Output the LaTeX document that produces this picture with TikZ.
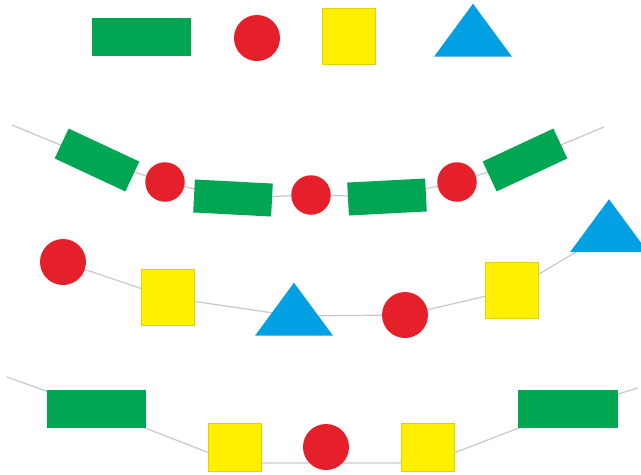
\documentclass[tikz,border=0pt]{standalone}
\usepackage{xcolor}
\usepackage{tikz}
\usetikzlibrary{shapes.geometric, backgrounds}
\definecolor{leafgreen}{HTML}{00A651}
\definecolor{beadred}{HTML}{E6202A}
\definecolor{beadyellow}{HTML}{FFF000}
\definecolor{beadblue}{HTML}{00A0E3}
\definecolor{stringgray}{HTML}{C8C8D0}
\tikzset{
  bar/.style={
    rectangle, fill=leafgreen,
    minimum width=19.8mm, minimum height=7.6mm,
    inner sep=0pt
  },
  small bar/.style={
    bar, minimum width=15.6mm, minimum height=6.6mm
  },
  bead/.style={
    circle, fill=beadred,
    minimum size=9.2mm, inner sep=0pt
  },
  small bead/.style={
    bead, minimum size=7.9mm
  },
  cube/.style={
    rectangle, fill=beadyellow, draw=beadyellow!88!black, line width=0.3pt,
    minimum width=10.6mm, minimum height=11.2mm,
    inner sep=0pt
  },
  cone/.style={
    isosceles triangle, isosceles triangle stretches,
    shape border rotate=90, fill=beadblue,
    minimum width=15.6mm, minimum height=10.6mm,
    inner sep=0pt
  },
  string/.style={stringgray, line width=0.7pt}
}
\begin{document}
\begin{tikzpicture}[x=0.2mm, y=-0.2mm]
  \useasboundingbox (0,0) rectangle (641,475);

  % Top row: the four kinds of beads
  \node[bar]  (a1) at (141.5,37) {};
  \node[bead] (a2) at (257,38) {};
  \node[cube] (a3) at (349,36) {};
  \node[cone] (a4) at (473,37) {};

  % Second row
  \coordinate (b0) at (12,125);
  \node[small bar, rotate=-25] (b1) at (97,160) {};
  \node[small bead]            (b2) at (165,182) {};
  \node[small bar, rotate=-3]  (b3) at (233,198) {};
  \node[small bead]            (b4) at (311,195) {};
  \node[small bar, rotate=3]   (b5) at (387,197) {};
  \node[small bead]            (b6) at (457,182) {};
  \node[small bar, rotate=25]  (b7) at (525,160) {};
  \coordinate (b8) at (604,127);

  % Third row
  \node[bead] (c1) at (63,262) {};
  \node[cube] (c2) at (167.5,297.5) {};
  \node[cone] (c3) at (294,316) {};
  \node[bead] (c4) at (405,315) {};
  \node[cube] (c5) at (512,290) {};
  \node[cone] (c6) at (609,232.5) {};

  % Bottom row
  \coordinate (d0) at (7,377);
  \node[bar]  (d1) at (96.5,409) {};
  \node[cube, minimum height=9.6mm] (d2) at (235,447) {};
  \node[bead] (d3) at (326,447) {};
  \node[cube, minimum height=9.6mm] (d4) at (428,447) {};
  \node[bar]  (d5) at (568,409) {};
  \coordinate (d6) at (638,388);

  % Strings
  \begin{scope}[on background layer]
    \draw[string] (b0) \foreach \i in {1,...,8} { -- (b\i.center) };
    \draw[string] (c1.center) \foreach \i in {2,...,6} { -- (c\i.center) };
    \draw[string] (d0) -- (d1.center) -- ([yshift=-3.2mm]d2.center)
      -- ([yshift=-3.2mm]d3.center) -- ([yshift=-3.2mm]d4.center)
      -- (d5.center) -- (d6);
  \end{scope}
\end{tikzpicture}
\end{document}
